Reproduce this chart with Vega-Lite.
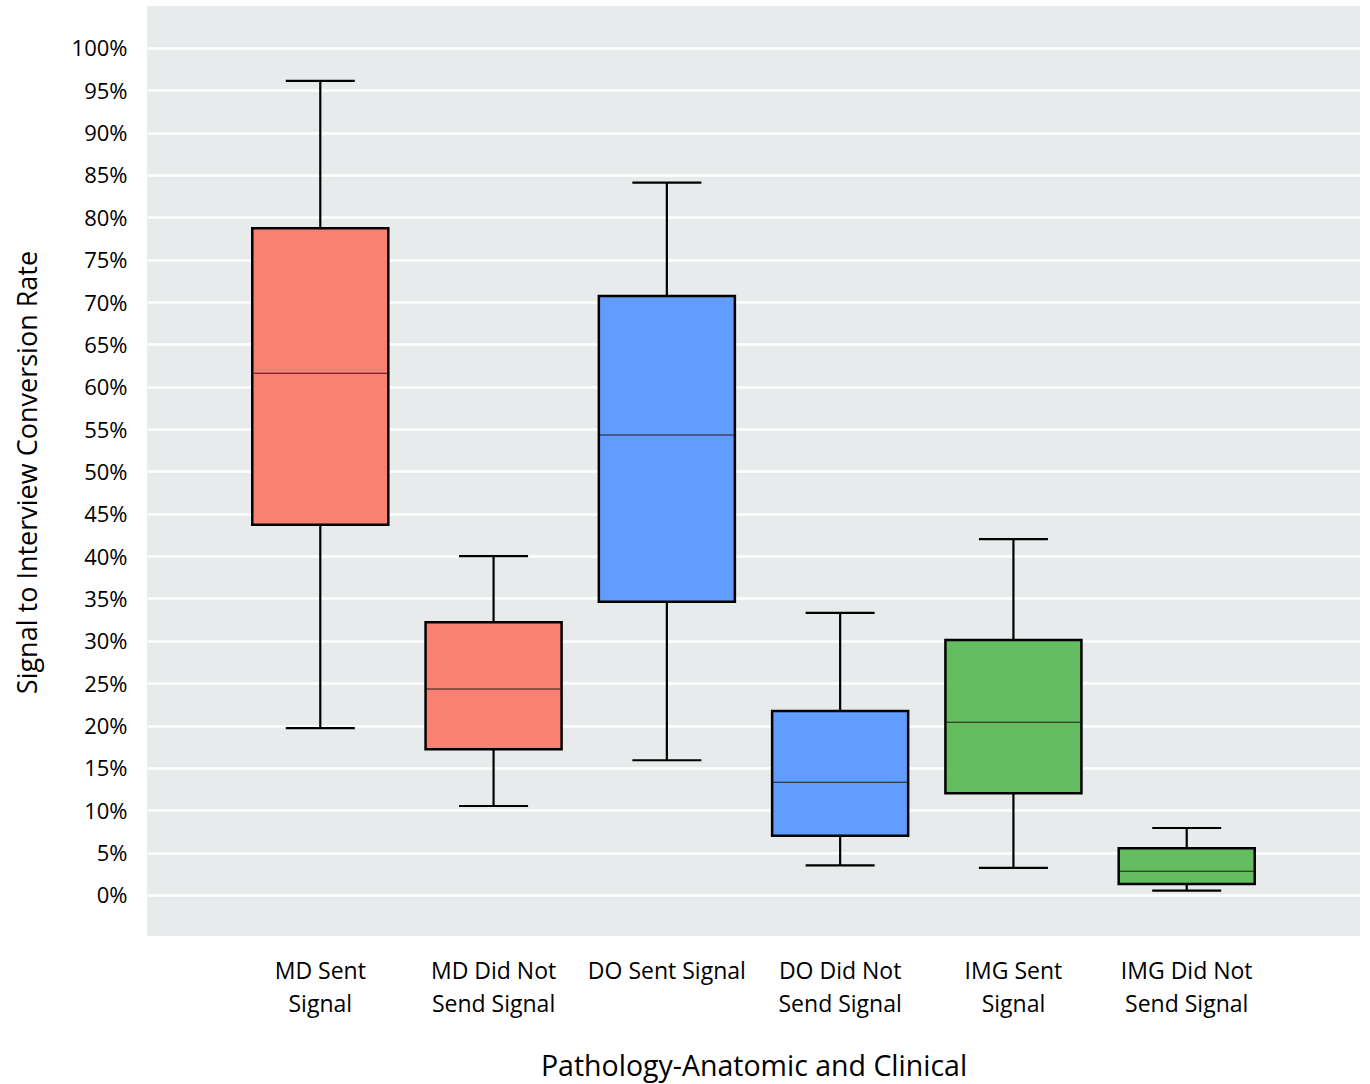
{
  "$schema": "https://vega.github.io/schema/vega-lite/v6.json",
  "width": 1213,
  "height": 930,
  "autosize": {"type": "none"},
  "padding": {"left": 147, "top": 6, "right": 10, "bottom": 148},
  "background": "white",
  "config": {
    "view": {"fill": "#e8ebec", "stroke": null},
    "font": "Open Sans"
  },
  "data": {
    "values": [
      {"cat": "MD Sent Signal", "grp": "MD", "min": 19.7, "q1": 43.7, "median": 61.6, "q3": 78.7, "max": 96.1},
      {"cat": "MD Did Not Send Signal", "grp": "MD", "min": 10.5, "q1": 17.2, "median": 24.3, "q3": 32.2, "max": 40.0},
      {"cat": "DO Sent Signal", "grp": "DO", "min": 15.9, "q1": 34.6, "median": 54.3, "q3": 70.7, "max": 84.1},
      {"cat": "DO Did Not Send Signal", "grp": "DO", "min": 3.5, "q1": 7.0, "median": 13.3, "q3": 21.7, "max": 33.3},
      {"cat": "IMG Sent Signal", "grp": "IMG", "min": 3.2, "q1": 12.0, "median": 20.4, "q3": 30.1, "max": 42.0},
      {"cat": "IMG Did Not Send Signal", "grp": "IMG", "min": 0.5, "q1": 1.3, "median": 2.8, "q3": 5.5, "max": 7.9}
    ]
  },
  "encoding": {
    "x": {
      "field": "cat",
      "type": "nominal",
      "sort": null,
      "scale": {"paddingInner": 0.215, "paddingOuter": 0.6075},
      "axis": {
        "title": "Pathology-Anatomic and Clinical",
        "titleFontSize": 28.5,
        "titleFontWeight": "normal",
        "titleColor": "#000",
        "titleBaseline": "middle",
        "titleY": 130,
        "labelAngle": 0,
        "labelFontSize": 23,
        "labelColor": "#000",
        "labelLineHeight": 33,
        "labelBaseline": "middle",
        "labelPadding": 35,
        "ticks": false,
        "domain": false,
        "grid": false,
        "labelExpr": "datum.label == 'MD Sent Signal' ? ['MD Sent', 'Signal'] : datum.label == 'MD Did Not Send Signal' ? ['MD Did Not', 'Send Signal'] : datum.label == 'DO Did Not Send Signal' ? ['DO Did Not', 'Send Signal'] : datum.label == 'IMG Sent Signal' ? ['IMG Sent', 'Signal'] : datum.label == 'IMG Did Not Send Signal' ? ['IMG Did Not', 'Send Signal'] : datum.label"
      }
    }
  },
  "layer": [
    {
      "mark": {"type": "rule", "color": "black", "strokeWidth": 2.2},
      "encoding": {
        "y": {
          "field": "min",
          "type": "quantitative",
          "scale": {"domain": [-4.85, 104.95], "nice": false, "zero": false},
          "axis": {
            "title": "Signal to Interview Conversion Rate",
            "titleFontSize": 27,
            "titleFontWeight": "normal",
            "titleColor": "#000",
            "titleAngle": -90,
            "titleAlign": "center",
            "titleBaseline": "middle",
            "titleX": -119,
            "titleY": 466,
            "values": [0,5,10,15,20,25,30,35,40,45,50,55,60,65,70,75,80,85,90,95,100],
            "labelExpr": "datum.value + '%'",
            "labelFontSize": 22,
            "labelColor": "#000",
            "labelPadding": 20,
            "labelBaseline": "middle",
            "labelOffset": 1,
            "ticks": false,
            "domain": false,
            "grid": true,
            "gridColor": "white",
            "gridWidth": 2.5,
            "gridOpacity": 1
          }
        },
        "y2": {"field": "max"}
      }
    },
    {
      "mark": {"type": "tick", "color": "black", "size": 69, "thickness": 2.2, "opacity": 1},
      "encoding": {"y": {"field": "min", "type": "quantitative"}}
    },
    {
      "mark": {"type": "tick", "color": "black", "size": 69, "thickness": 2.2, "opacity": 1},
      "encoding": {"y": {"field": "max", "type": "quantitative"}}
    },
    {
      "mark": {"type": "bar", "stroke": "black", "strokeWidth": 2.5, "opacity": 1},
      "encoding": {
        "y": {"field": "q1", "type": "quantitative"},
        "y2": {"field": "q3"},
        "color": {
          "field": "grp",
          "type": "nominal",
          "scale": {"domain": ["MD", "DO", "IMG"], "range": ["#fa8072", "#619cff", "#64bd5f"]},
          "legend": null
        }
      }
    },
    {
      "mark": {"type": "tick", "color": "#2a1a1a", "size": 134, "thickness": 1, "opacity": 1},
      "encoding": {"y": {"field": "median", "type": "quantitative"}}
    }
  ]
}
